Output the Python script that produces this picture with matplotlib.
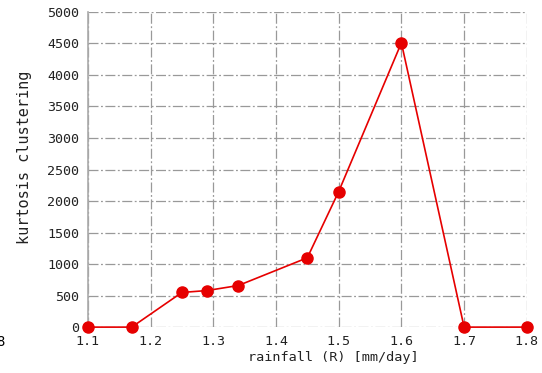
import numpy as np
import matplotlib
matplotlib.use("Agg")
import matplotlib.pyplot as plt

# rainfall threshold vs kurtosis of clustering
rainfall = [1.1, 1.17, 1.25, 1.29, 1.34, 1.45, 1.5, 1.6, 1.7, 1.8]
kurtosis = [0, 0, 550, 580, 660, 1100, 2150, 4510, 0, 0]

x_ticks = [1.1, 1.2, 1.3, 1.4, 1.5, 1.6, 1.7, 1.8]
y_ticks = np.arange(0, 5001, 500)

plt.rcParams['font.family'] = 'DejaVu Sans Mono'
plt.rcParams['font.size'] = 9.6

fig = plt.figure(figsize=(5.42, 3.73), dpi=100)
ax = fig.add_axes([0.162, 0.123, 0.810, 0.845])

ax.plot(rainfall, kurtosis, color='#e60000', lw=1.2, marker='o',
        markersize=8, zorder=3, clip_on=False)

ax.set_xlim(1.1, 1.8)
ax.set_ylim(0, 5000)
ax.set_xticks(x_ticks)
ax.set_xticklabels([f"{t:.1f}" for t in x_ticks])
ax.set_yticks(y_ticks)
ax.tick_params(length=0, colors='#222222')
ax.tick_params(axis='x', pad=6)
ax.tick_params(axis='y', pad=6)

ax.grid(True, color='#999999', linestyle='-.', linewidth=0.9, dashes=(8, 2, 1.5, 2))
for side in ['top', 'right', 'bottom']:
    ax.spines[side].set_visible(False)
ax.spines['left'].set_color('#aaaaaa')
ax.spines['left'].set_linewidth(1.2)

ax.set_xlabel('rainfall (R) [mm/day]', fontsize=9.7, color='#222222')
ax.xaxis.set_label_coords(0.56, -0.075)
ax.set_ylabel('kurtosis clustering', fontsize=11, color='#222222')
ax.yaxis.set_label_coords(-0.128, 0.538)

# edge of neighbouring panel label
fig.text(0.0, 0.082, '8', fontsize=10, va='center', ha='center')

fig.savefig('out.png', dpi=100)
